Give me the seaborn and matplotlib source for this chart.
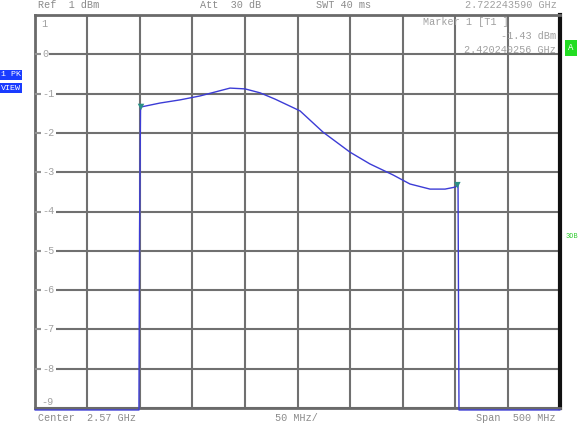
import matplotlib
matplotlib.use("Agg")
import matplotlib.pyplot as plt
import seaborn as sns
import pandas as pd

# ---- data ----
freq_ghz = [2.3200, 2.4190, 2.4196, 2.4205, 2.4210, 2.4391, 2.4581, 2.4771, 2.4914,
            2.5057, 2.5200, 2.5343, 2.5486, 2.5629, 2.5724, 2.5943, 2.6200,
            2.6390, 2.6610, 2.6771, 2.6962, 2.7105, 2.7200, 2.7229, 2.7233,
            2.7238, 2.8200]
level_dbm = [-9.05, -9.05, -4.5, -1.36, -1.34, -1.24, -1.16, -1.06, -0.96,
             -0.86, -0.88, -0.98, -1.14, -1.32, -1.44, -1.98, -2.49,
             -2.79, -3.07, -3.30, -3.43, -3.43, -3.38, -3.33, -6.0,
             -9.05, -9.05]
marker_freq = [2.42095, 2.72224]
marker_level = [-1.34, -3.33]
y_ticks = [1, 0, -1, -2, -3, -4, -5, -6, -7, -8, -9]

sns.set_style("white")
plt.rcParams['font.family'] = ['Liberation Mono', 'DejaVu Sans Mono']

fig = plt.figure(figsize=(5.82, 4.25), dpi=100)
ax = fig.add_axes([35/582, 1-408/425, (560-35)/582, (408-15)/425])

df = pd.DataFrame({"f": freq_ghz, "p": level_dbm})
sns.lineplot(data=df, x="f", y="p", ax=ax, color="#3c3cd6", lw=1.0,
             sort=False, estimator=None, zorder=5, clip_on=False)
mk = pd.DataFrame({"f": marker_freq, "p": marker_level})
sns.scatterplot(data=mk, x="f", y="p", ax=ax, marker="v", s=22,
                color="#2a8f86", edgecolor="none", zorder=6)

ax.set_xlim(2.32, 2.82)
ax.set_ylim(-9, 1)
ax.set_xticks([2.32 + 0.05*i for i in range(11)])
ax.set_yticks(y_ticks)
ax.grid(True, color="#707070", lw=1.5)
ax.tick_params(length=0, labelbottom=False, labelleft=False)
ax.set_xlabel("")
ax.set_ylabel("")
for s in ["left", "top", "bottom"]:
    ax.spines[s].set_color("#6a6a6a")
    ax.spines[s].set_linewidth(2)
ax.spines["right"].set_color("#111111")
ax.spines["right"].set_linewidth(3)

grey = "#8a8a8a"
lgrey = "#a0a0a0"
fs = 7.3
# y labels inside the grid
for v in y_ticks:
    if v == 1:
        ax.text(0.012, 1 - 9/393, "1", transform=ax.transAxes, fontsize=fs,
                color=lgrey, va="center", ha="left")
    elif v == -9:
        ax.text(0.012, 6/393, "-9", transform=ax.transAxes, fontsize=fs,
                color=lgrey, va="center", ha="left")
    else:
        yy = (v + 9) / 10
        ax.plot([0.0, 0.012], [yy, yy], transform=ax.transAxes,
                color="#9a9a9a", lw=1.2, zorder=4, solid_capstyle="butt")
        ax.text(0.014, yy, str(v), transform=ax.transAxes,
                fontsize=fs, color=lgrey, va="center", ha="left", zorder=4,
                bbox=dict(boxstyle="square,pad=0.1", fc="white", ec="none"))

# header / footer
fig.text(38/582, 1-5/425, "Ref  1 dBm", fontsize=fs, color=grey, va="center")
fig.text(200/582, 1-5/425, "Att  30 dB", fontsize=fs, color=grey, va="center")
fig.text(316/582, 1-5/425, "SWT 40 ms", fontsize=fs, color=grey, va="center")
fig.text(557/582, 1-5/425, "2.722243590 GHz", fontsize=fs, color=lgrey,
         va="center", ha="right")
fig.text(38/582, 1-418/425, "Center  2.57 GHz", fontsize=fs, color=grey, va="center")
fig.text(275/582, 1-418/425, "50 MHz/", fontsize=fs, color=grey, va="center")
fig.text(556/582, 1-418/425, "Span  500 MHz", fontsize=fs, color=grey,
         va="center", ha="right")

# marker box
fig.text(423/582, 1-22/425, "Marker 1 [T1 ]", fontsize=fs, color=lgrey, va="center")
fig.text(556/582, 1-36/425, "-1.43 dBm", fontsize=fs, color=lgrey,
         va="center", ha="right")
fig.text(556/582, 1-50/425, "2.420240256 GHz", fontsize=fs, color=lgrey,
         va="center", ha="right")

# side labels
fig.text(1/582, 1-75/425, "1 PK", fontsize=6, color="white", va="center",
         bbox=dict(boxstyle="square,pad=0.15", fc="#1a3cff", ec="none"))
fig.text(1/582, 1-88/425, "VIEW", fontsize=6, color="white", va="center",
         bbox=dict(boxstyle="square,pad=0.15", fc="#1a3cff", ec="none"))
fig.text(568/582, 1-48/425, "A", fontsize=6.5, color="white", va="center",
         bbox=dict(boxstyle="square,pad=0.35", fc="#22dd22", ec="none"))
fig.text(566/582, 1-237/425, "3DB", fontsize=5, color="#33cc33", va="center")

fig.savefig("out.png", dpi=100)
